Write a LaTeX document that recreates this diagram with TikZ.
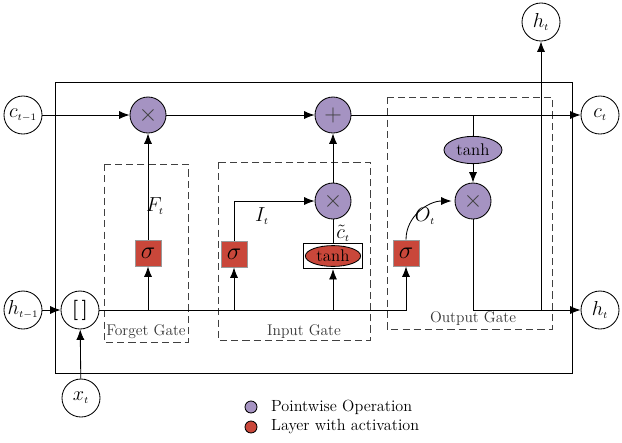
\documentclass[tikz,border=0pt]{standalone}
\usepackage{amsmath,amssymb}
\usepackage{tikz}
\usetikzlibrary{arrows.meta,positioning,shapes.geometric,calc}
\usepackage{xcolor}
\definecolor{opcolor}{RGB}{165,147,194}
\definecolor{actcolor}{RGB}{201,71,58}

\begin{document}
\begin{tikzpicture}[
    x=0.025cm, y=-0.025cm,
    line width=0.6pt,
    arr/.style={-{Latex[length=2.6mm,width=2mm]}},
    state/.style={draw, circle, fill=white, minimum size=0.95cm, inner sep=0pt, font=\Large},
    pointop/.style={draw, circle, fill=opcolor, minimum size=0.9cm, inner sep=0pt, font=\LARGE, text=black!75},
    sigbox/.style={draw=black!40, fill=actcolor, minimum size=0.65cm, inner sep=0pt, font=\LARGE},
    gatebox/.style={draw=black!75, dashed, dash pattern=on 5pt off 3pt},
    gatelabel/.style={font=\fontsize{11}{13}\selectfont, text=black!80},
    lbl/.style={font=\Large},
  ]
  \useasboundingbox (0,0) rectangle (622,442);

  % Cell frame and gate regions
  \draw (55,82) rectangle (572,373);
  \draw[gatebox] (104,164) rectangle (188,342);
  \draw[gatebox] (218,162) rectangle (370,340);
  \draw[gatebox] (387,97) rectangle (552,329);
  \node[gatelabel] (fglbl) at (146,332) {Forget\ Gate};
  \node[gatelabel] (iglbl) at (304,332) {Input\ Gate};
  \node[gatelabel] (oglbl) at (473,319) {Output\ Gate};

  % States
  \node[state] (cprev) at (23,115) {$c_{\scriptscriptstyle t-1}$};
  \node[state] (hprev) at (23,310) {$h_{\scriptscriptstyle t-1}$};
  \node[state] (xt) at (81,398) {$x_{\scriptscriptstyle t}$};
  \node[state, font=\Large\bfseries] (cat) at (80,310) {[\,]};
  \node[state] (ct) at (600,115) {$c_{\scriptscriptstyle t}$};
  \node[state] (ht) at (600,310) {$h_{\scriptscriptstyle t}$};
  \node[state] (httop) at (541,22) {$h_{\scriptscriptstyle t}$};

  % Pointwise operations
  \node[pointop] (fmul) at (148,115) {$\times$};
  \node[pointop] (add) at (333,115) {$+$};
  \node[pointop] (imul) at (333,201) {$\times$};
  \node[pointop] (omul) at (473,201) {$\times$};
  \node[draw, ellipse, fill=opcolor, minimum width=1.45cm, minimum height=0.68cm, inner sep=0pt, font=\large] (otanh) at (473,150) {tanh};

  % Layers with activation
  \node[sigbox] (fsig) at (148,253) {$\sigma$};
  \node[sigbox] (isig) at (234,254) {$\sigma$};
  \node[sigbox] (osig) at (406,253) {$\sigma$};
  \node[draw, minimum width=1.48cm, minimum height=0.63cm, inner sep=0pt] (itanhbox) at (333,256) {};
  \node[draw, ellipse, fill=actcolor, minimum width=1.38cm, minimum height=0.52cm, inner sep=0pt, font=\large] (itanh) at (333,256) {tanh};

  % Cell state line
  \draw[arr] (cprev) -- (fmul);
  \draw[arr] (fmul) -- (add);
  \draw[arr] (add) -- (ct);
  \coordinate (tapc) at (473,115);

  % Inputs and hidden line
  \draw[arr] (hprev) -- (cat);
  \draw[arr] (xt) -- (cat);
  \coordinate (tapf) at (148,310);
  \coordinate (tapi) at (234,310);
  \coordinate (tapt) at (333,310);
  \coordinate (tapo) at (406,310);
  \draw[arr] (cat.east) -- (tapo) -- (osig.south);
  \draw[arr] (tapf) -- (fsig.south);
  \draw[arr] (tapi) -- (isig.south);
  \draw[arr] (tapt) -- (itanhbox.south);

  % Forget gate
  \draw[arr] (fsig) -- (fmul);
  \node[lbl] (ftlbl) at (155,206) {$F_{\scriptscriptstyle t}$};

  % Input gate
  \draw[arr] (isig.north) |- (imul.west);
  \node[lbl] (itlbl) at (262,216) {$I_{\scriptscriptstyle t}$};
  \draw (itanhbox.north) -- (imul.south);
  \node[lbl] (ctlbl) at (343,233) {$\tilde{c}_{\scriptscriptstyle t}$};
  \draw[arr] (imul) -- (add);

  % Output gate
  \draw (tapc) -- (otanh.north);
  \draw[arr] (otanh) -- (omul);
  \draw[arr] (osig.north) to[out=90, in=180] ($(omul.west)+(-3,0)$);
  \node[lbl] (otlbl) at (425,216) {$O_{\scriptscriptstyle t}$};
  \coordinate (hcorner) at (473,310);
  \draw[arr] (omul.south) -- (hcorner) -- (ht.west);
  \coordinate (taph) at (541,310);
  \draw[arr] (taph) -- (httop.south);

  % Legend
  \node[draw, circle, fill=opcolor, minimum size=0.3cm, inner sep=0pt] (legop) at (251,407) {};
  \node[draw, circle, fill=actcolor, minimum size=0.3cm, inner sep=0pt] (legact) at (251,427) {};
  \node[anchor=west, font=\fontsize{11.5}{13}\selectfont] (legoptxt) at (266,407) {Pointwise Operation};
  \node[anchor=west, font=\fontsize{11.5}{13}\selectfont] (legacttxt) at (266,427) {Layer with\ activation};
\end{tikzpicture}
\end{document}
